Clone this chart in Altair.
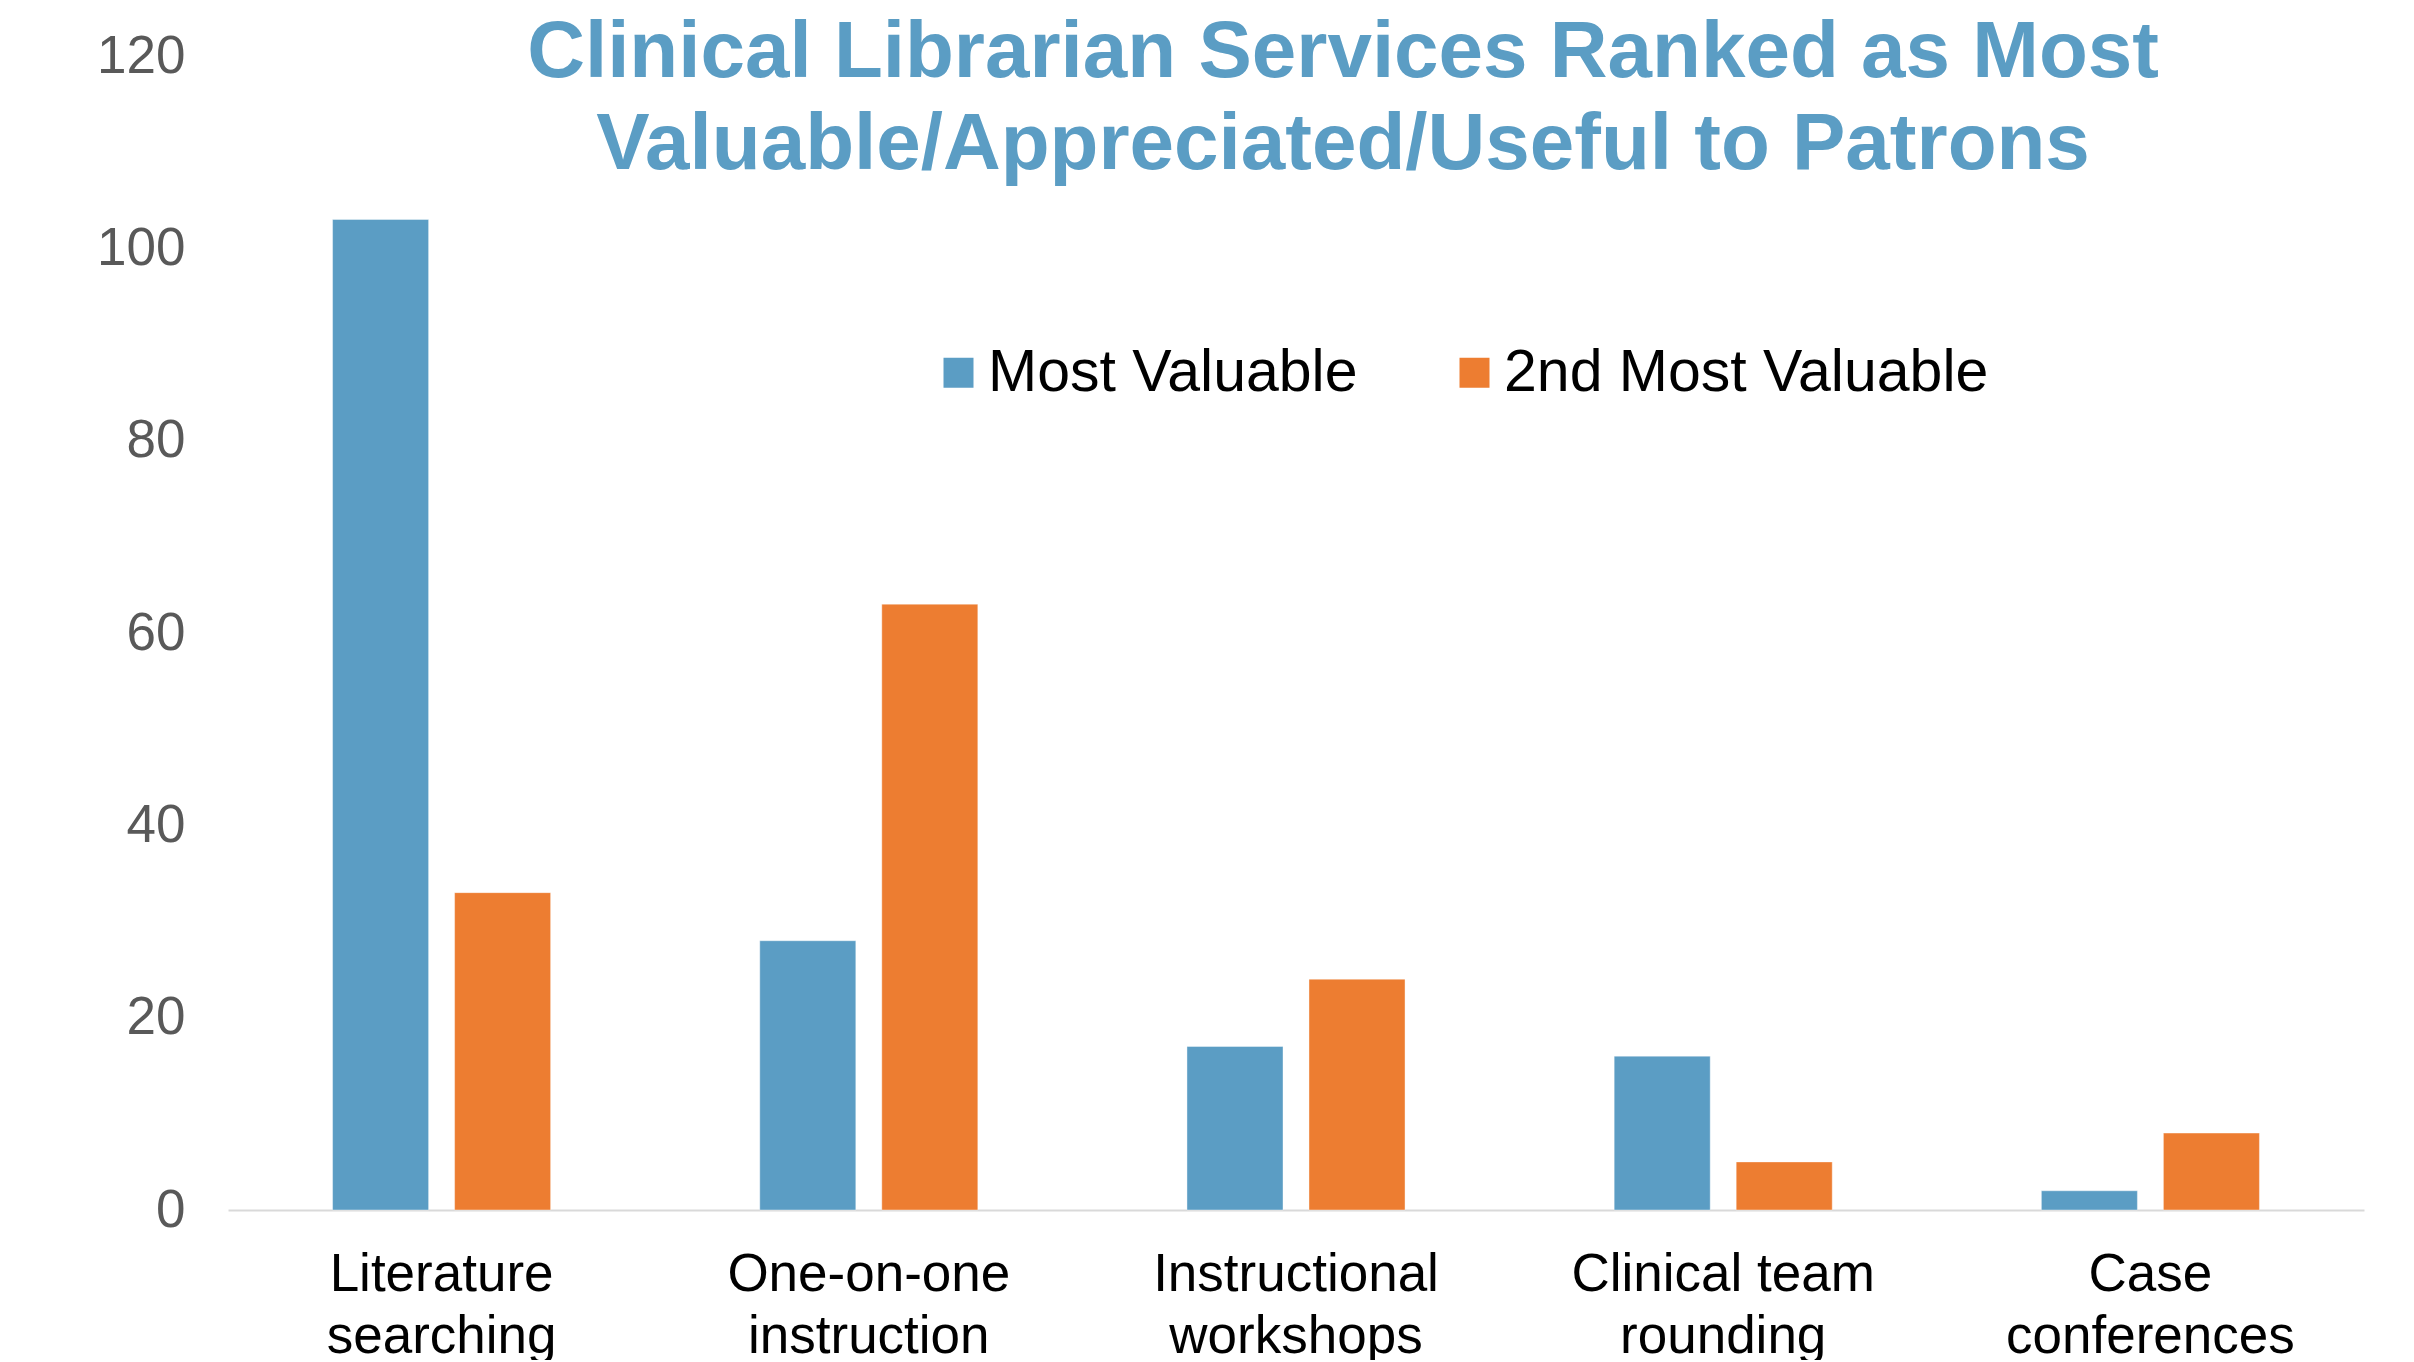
import altair as alt
import pandas as pd

categories = ["Literature\nsearching", "One-on-one\ninstruction", "Instructional\nworkshops",
              "Clinical team\nrounding", "Case\nconferences"]
series_names = ["Most Valuable", "2nd Most Valuable"]
most_valuable = [103, 28, 17, 16, 2]
second_most = [33, 63, 24, 5, 8]
y_ticks = [0, 20, 40, 60, 80, 100, 120]
title_lines = ["Clinical Librarian Services Ranked as Most",
               "Valuable/Appreciated/Useful to Patrons"]
colors = ["#5B9DC4", "#ED7D31"]

rows = []
for c, a, b in zip(categories, most_valuable, second_most):
    rows.append({"cat": c, "series": series_names[0], "value": a})
    rows.append({"cat": c, "series": series_names[1], "value": b})
df = pd.DataFrame(rows)

FONT = "Liberation Sans"

chart = alt.Chart(df).mark_bar(stroke="#FFFFFF", strokeWidth=1, strokeOpacity=0.4).encode(
    x=alt.X("cat:N", sort=categories, title=None,
            scale=alt.Scale(paddingInner=0, paddingOuter=0),
            axis=alt.Axis(labelExpr="split(datum.label, '\\n')", labelAngle=0,
                          labelFont=FONT, labelFontSize=53, labelColor="#000000",
                          labelLineHeight=62, labelPadding=38, labelBaseline="top",
                          labelLimit=0,
                          ticks=False, tickSize=0, domain=True, domainColor="#D9D9D9",
                          domainWidth=2, grid=False)),
    xOffset=alt.XOffset("series:N", sort=series_names,
                        scale=alt.Scale(paddingInner=0.213, paddingOuter=0.857)),
    y=alt.Y("value:Q", title=None,
            scale=alt.Scale(domain=[0, 120], nice=False),
            axis=alt.Axis(values=y_ticks, labelFont=FONT, labelFontSize=53,
                          labelColor="#595959", labelPadding=43, ticks=False,
                          tickSize=0, domain=False, grid=False)),
    color=alt.Color("series:N", sort=series_names,
                    scale=alt.Scale(domain=series_names, range=colors),
                    legend=alt.Legend(title=None, orient="none", legendX=701, legendY=287,
                                      direction="horizontal", columns=2,
                                      symbolType="square", symbolSize=900,
                                      symbolStrokeWidth=0, labelFont=FONT,
                                      labelFontSize=59, labelColor="#000000",
                                      labelOffset=0, columnPadding=87, padding=0,
                                      labelLimit=0)),
).properties(
    width=2136,
    height=1154,
    padding={"left": 220, "top": 48, "right": 40, "bottom": 150},
    autosize=alt.AutoSizeParams(type="none"),
    background="#FFFFFF",
    title=alt.TitleParams(text=title_lines, font=FONT, fontSize=80, fontWeight="bold",
                          color="#5B9DC4", lineHeight=92, anchor="middle", dx=47,
                          dy=160),
).configure_view(stroke=None)

chart.save("out.html", embed_options={"renderer": "svg", "actions": False})
